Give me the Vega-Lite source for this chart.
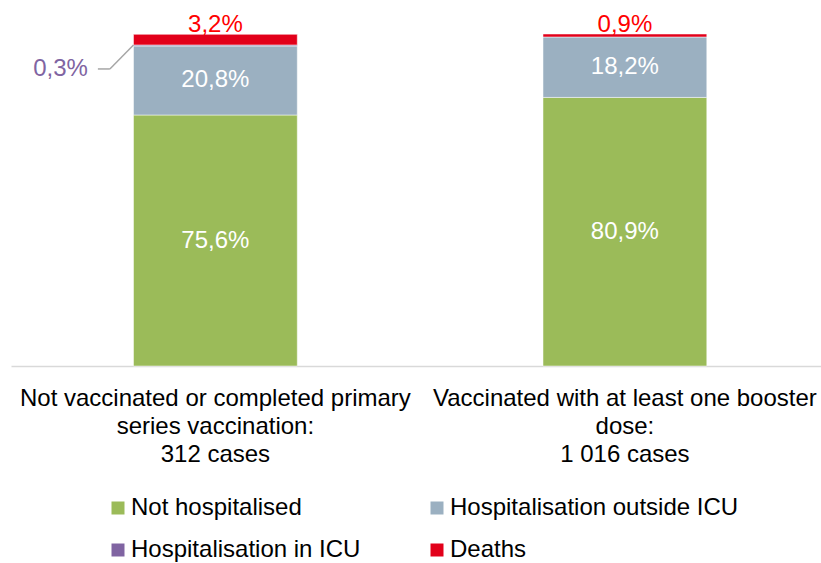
{
  "$schema": "https://vega.github.io/schema/vega-lite/v6.json",
  "width": 810,
  "height": 332,
  "autosize": {"type": "none"},
  "padding": {"left": 11, "top": 34, "right": 0, "bottom": 197},
  "background": "white",
  "config": {"view": {"stroke": null}, "font": "Liberation Sans"},
  "data": {
    "values": [
      {"category": "Not vaccinated or completed primary|series vaccination:|312 cases", "status": "Not hospitalised", "value": 75.6, "label": "75,6%"},
      {"category": "Not vaccinated or completed primary|series vaccination:|312 cases", "status": "Hospitalisation outside ICU", "value": 20.8, "label": "20,8%"},
      {"category": "Not vaccinated or completed primary|series vaccination:|312 cases", "status": "Hospitalisation in ICU", "value": 0.3, "label": "0,3%"},
      {"category": "Not vaccinated or completed primary|series vaccination:|312 cases", "status": "Deaths", "value": 3.2, "label": "3,2%"},
      {"category": "Vaccinated with at least one booster|dose:|1 016 cases", "status": "Not hospitalised", "value": 80.9, "label": "80,9%"},
      {"category": "Vaccinated with at least one booster|dose:|1 016 cases", "status": "Hospitalisation outside ICU", "value": 18.2, "label": "18,2%"},
      {"category": "Vaccinated with at least one booster|dose:|1 016 cases", "status": "Deaths", "value": 0.9, "label": "0,9%"}
    ]
  },
  "transform": [
    {"stack": "value", "groupby": ["category"], "sort": [{"field": "status", "order": "descending"}], "as": ["lo", "hi"]}
  ],
  "encoding": {
    "x": {
      "field": "category",
      "type": "nominal",
      "sort": null,
      "scale": {"paddingInner": 0.6, "paddingOuter": 0.289, "align": 0.5175},
      "axis": {
        "title": null,
        "labelExpr": "split(datum.label, '|')",
        "labelFontSize": 24,
        "labelLineHeight": 28,
        "labelPadding": 20,
        "labelColor": "#000000",
        "domainColor": "#d9d9d9",
        "domainWidth": 1.5,
        "ticks": false,
        "labelAngle": 0,
        "labelLimit": 500,
        "labelOverlap": false,
        "grid": false
      }
    }
  },
  "layer": [
    {
      "mark": {"type": "bar", "stroke": "white", "strokeWidth": 0.5},
      "encoding": {
        "y": {"field": "lo", "type": "quantitative", "scale": {"domain": [0, 100]}, "axis": null},
        "y2": {"field": "hi"},
        "color": {
          "field": "status",
          "type": "nominal",
          "scale": {
            "domain": ["Not hospitalised", "Hospitalisation in ICU", "Hospitalisation outside ICU", "Deaths"],
            "range": ["#9bbb59", "#8064a2", "#9bb0c1", "#e2001a"]
          },
          "legend": {
            "title": null,
            "orient": "none",
            "legendX": 95,
            "legendY": 462,
            "columns": 2,
            "columnPadding": 64,
            "rowPadding": 18,
            "padding": 0,
            "symbolType": "square",
            "symbolSize": 169,
            "symbolStrokeWidth": 0,
            "labelFontSize": 24,
            "labelOffset": 1,
            "labelLimit": 500,
            "labelColor": "#000000"
          }
        }
      }
    },
    {
      "transform": [
        {"filter": {"field": "status", "oneOf": ["Not hospitalised", "Hospitalisation outside ICU"]}},
        {"fold": ["lo", "hi"], "as": ["edge", "pos"]}
      ],
      "mark": {"type": "text", "color": "white", "fontSize": 24, "baseline": "middle"},
      "encoding": {
        "y": {"aggregate": "mean", "field": "pos", "type": "quantitative"},
        "text": {"field": "label", "type": "nominal"},
        "detail": {"field": "status"}
      }
    },
    {
      "transform": [{"filter": {"field": "status", "equal": "Deaths"}}],
      "mark": {"type": "text", "color": "#ff0000", "fontSize": 24, "baseline": "alphabetic", "dy": -2},
      "encoding": {
        "y": {"field": "hi", "type": "quantitative"},
        "text": {"field": "label", "type": "nominal"}
      }
    },
    {
      "transform": [{"filter": {"field": "status", "equal": "Hospitalisation in ICU"}}],
      "mark": {"type": "text", "color": "#8064a2", "fontSize": 24, "baseline": "middle", "align": "right", "dx": -127.5, "dy": 24},
      "encoding": {
        "y": {"field": "hi", "type": "quantitative"},
        "text": {"field": "label", "type": "nominal"}
      }
    },
    {
      "transform": [{"filter": {"field": "status", "equal": "Hospitalisation in ICU"}}],
      "mark": {"type": "rule", "color": "#a6a6a6", "strokeWidth": 1.5, "xOffset": -117.5, "x2Offset": -105.5, "yOffset": 24, "y2Offset": 24},
      "encoding": {
        "y": {"field": "hi", "type": "quantitative"},
        "y2": {"field": "hi"},
        "x2": {"field": "category"}
      }
    },
    {
      "transform": [{"filter": {"field": "status", "equal": "Hospitalisation in ICU"}}],
      "mark": {"type": "rule", "color": "#a6a6a6", "strokeWidth": 1.5, "xOffset": -105.5, "x2Offset": -81.9, "yOffset": 24, "y2Offset": 0},
      "encoding": {
        "y": {"field": "hi", "type": "quantitative"},
        "y2": {"field": "hi"},
        "x2": {"field": "category"}
      }
    }
  ]
}
